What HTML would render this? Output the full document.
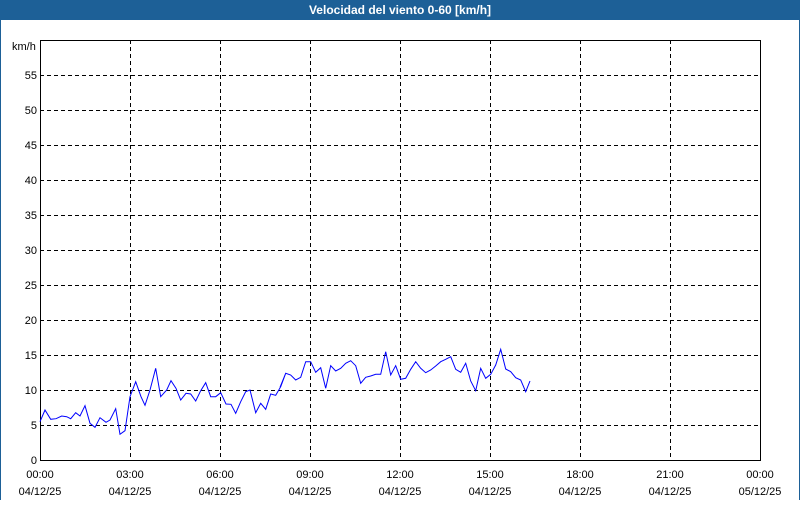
<!DOCTYPE html>
<html><head><meta charset="utf-8"><style>
body{margin:0;width:800px;height:500px;overflow:hidden;background:#fff;font-family:"Liberation Sans",sans-serif;}
</style></head><body>
<svg width="800" height="500" xmlns="http://www.w3.org/2000/svg" font-family="Liberation Sans, sans-serif" font-size="11">
<rect x="0" y="0" width="800" height="500" fill="#fff"/>
<rect x="0" y="0" width="800" height="20" fill="#1d6097"/>
<rect x="0" y="20" width="1" height="480" fill="#1d6097"/>
<rect x="799" y="20" width="1" height="480" fill="#1d6097"/>
<text x="400" y="14" fill="#fff" font-weight="bold" font-size="12" text-anchor="middle">Velocidad del viento 0-60 [km/h]</text>
<g id="grid" stroke="#000" stroke-width="1" stroke-dasharray="4,3" fill="none"></g>
<rect x="40.5" y="40.5" width="720" height="420" fill="none" stroke="#000"/>
<g id="lab" fill="#000"></g>
<text x="12" y="50" fill="#000">km/h</text>
<polyline id="ln" fill="none" stroke="#0000ff" stroke-width="1"/>
</svg>
<script>
var ns="http://www.w3.org/2000/svg",g=document.getElementById('grid'),lab=document.getElementById('lab');
function el(p,t,a,txt){var e=document.createElementNS(ns,t);for(var k in a)e.setAttribute(k,a[k]);if(txt!=null)e.textContent=txt;p.appendChild(e);}
for(var v=5;v<=55;v+=5){var y=460-v*7+0.5;el(g,'line',{x1:40,x2:760,y1:y,y2:y});}
for(var v=0;v<=55;v+=5){el(lab,'text',{x:37,y:464-v*7,'text-anchor':'end'},String(v));}
var hrs=["00:00","03:00","06:00","09:00","12:00","15:00","18:00","21:00","00:00"];
for(var i=0;i<9;i++){var x=40+i*90;if(i>0&&i<8)el(g,'line',{x1:x+0.5,x2:x+0.5,y1:40,y2:460});
el(lab,'text',{x:x,y:478,'text-anchor':'middle'},hrs[i]);el(lab,'text',{x:x,y:495,'text-anchor':'middle'},i==8?"05/12/25":"04/12/25");}
var a=[[30,245],[45,210],[62,238],[78,236],[95,228],[110,230],[122,236],[137,218],[150,228],[165,197],[180,250],[195,262],[210,233],[228,247],[240,240],[257,206],[270,283],[285,272],[300,170],[317,125],[333,170],[345,196],[360,150],[377,85],[392,170],[410,150],[423,122],[438,145],[452,180],[468,160],[482,162],[497,183],[512,152],[527,128],[542,170],[557,170],[572,158],[588,192],[603,193],[617,220],[632,185],[647,155],[660,150],[677,218],[692,190],[707,208],[722,162],[737,166],[752,140],[767,100]];
var b=[[0,142],[17,100],[32,105],[47,120],[62,112],[77,65],[92,65],[107,97],[122,83],[137,145],[152,77],[167,93],[182,85],[197,70],[212,62],[227,77],[242,130],[257,112],[272,108],[287,103],[302,103],[317,35],[332,105],[347,77],[362,118],[377,115],[392,88],[407,65],[422,85],[437,98],[452,90],[467,78],[482,65],[497,58],[512,50],[527,88],[542,97],[557,70],[572,123],[587,152],[602,85],[617,115],[632,103],[647,75],[662,28],[677,87],[692,95],[707,113],[722,120],[737,155],[750,123]];
var pts=[];a.forEach(function(p){pts.push((30+p[0]/3).toFixed(1)+","+(340+p[1]/3).toFixed(1));});
b.forEach(function(p){pts.push((280+p[0]/3).toFixed(1)+","+(340+p[1]/3).toFixed(1));});
document.getElementById('ln').setAttribute('points',pts.join(' '));
</script>
</body></html>
